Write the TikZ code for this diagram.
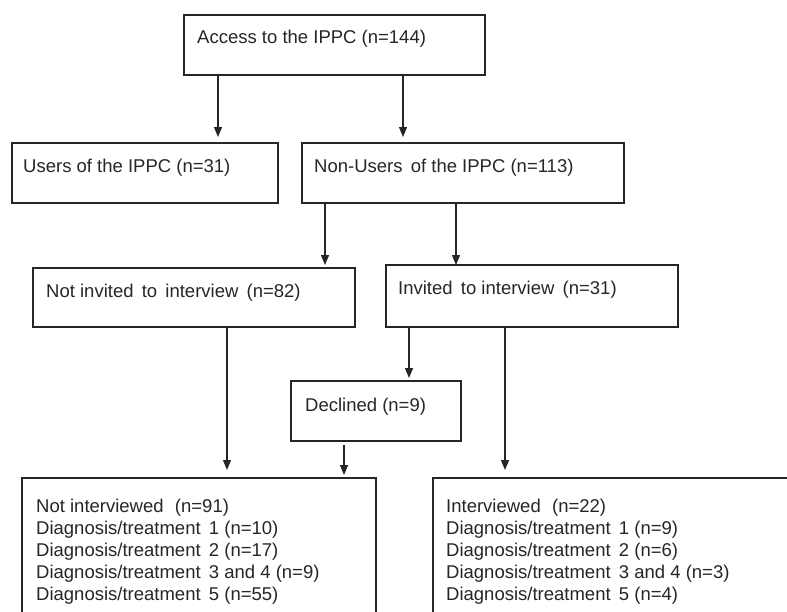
\documentclass[tikz,border=0pt]{standalone}
\usepackage{fontspec}
\setmainfont{Liberation Sans}
\usetikzlibrary{arrows.meta}
\begin{document}
\begin{tikzpicture}[x=1pt,y=-1pt,
  box/.style={draw=black!85, line width=1.2pt, fill=white, anchor=north west, inner sep=0pt, outer sep=0pt},
  txt/.style={anchor=west, inner sep=0pt, font=\fontsize{18.5}{22}\selectfont, text=black!85},
  arr/.style={draw=black!85, line width=1.2pt, -{Triangle[length=10pt,width=8pt]}}]
\useasboundingbox (0,0) rectangle (787,611);
\begin{scope}
\clip (0,0) rectangle (787,611);
% boxes
\node[box, minimum width=301pt, minimum height=60pt] (A) at (184,15) {};
\node[box, minimum width=266pt, minimum height=60pt] (U) at (12,143) {};
\node[box, minimum width=322pt, minimum height=60pt] (N) at (302,143) {};
\node[box, minimum width=322pt, minimum height=59pt] (NI) at (33,268) {};
\node[box, minimum width=292pt, minimum height=62pt] (I) at (386,265) {};
\node[box, minimum width=170pt, minimum height=60pt] (D) at (291,381) {};
\node[box, minimum width=354pt, minimum height=170pt] (NT) at (22,478) {};
\node[box, minimum width=400pt, minimum height=170pt] (IT) at (433,478) {};
% texts
\node[txt] (tA) at (197,39) {Access to the IPPC (n=144)};
\node[txt] (tU) at (23,168) {Users of the IPPC (n=31)};
\node[txt] (tN) at (314,168) {Non-Users\, of the IPPC (n=113)};
\node[txt] (tNI) at (46,293) {Not invited\, to\, interview\, (n=82)};
\node[txt] (tI) at (398,290) {Invited\, to interview\, (n=31)};
\node[txt] (tD) at (305,407) {Declined (n=9)};
\node[txt, anchor=north west, align=left] (tNT) at (36,498.5) {Not interviewed\,\, (n=91)\\Diagnosis/treatment\, 1 (n=10)\\Diagnosis/treatment\, 2 (n=17)\\Diagnosis/treatment\, 3 and 4 (n=9)\\Diagnosis/treatment\, 5 (n=55)};
\node[txt, anchor=north west, align=left] (tIT) at (446,498.5) {Interviewed\,\, (n=22)\\Diagnosis/treatment\, 1 (n=9)\\Diagnosis/treatment\, 2 (n=6)\\Diagnosis/treatment\, 3 and 4 (n=3)\\Diagnosis/treatment\, 5 (n=4)};
% arrow ends
\coordinate (e1) at (218,137);
\coordinate (e2) at (403,137);
\coordinate (e3) at (325,265);
\coordinate (e4) at (456,265);
\coordinate (e5) at (227,470);
\coordinate (e6) at (409,378);
\coordinate (s7) at (344,445);
\coordinate (e7) at (344,475);
\coordinate (e8) at (505,470);
\draw[arr] (A.south -| e1) -- (e1);
\draw[arr] (A.south -| e2) -- (e2);
\draw[arr] (N.south -| e3) -- (e3);
\draw[arr] (N.south -| e4) -- (e4);
\draw[arr] (NI.south -| e5) -- (e5);
\draw[arr] (I.south -| e6) -- (e6);
\draw[arr] (s7) -- (e7);
\draw[arr] (I.south -| e8) -- (e8);
\end{scope}
\end{tikzpicture}
\end{document}
